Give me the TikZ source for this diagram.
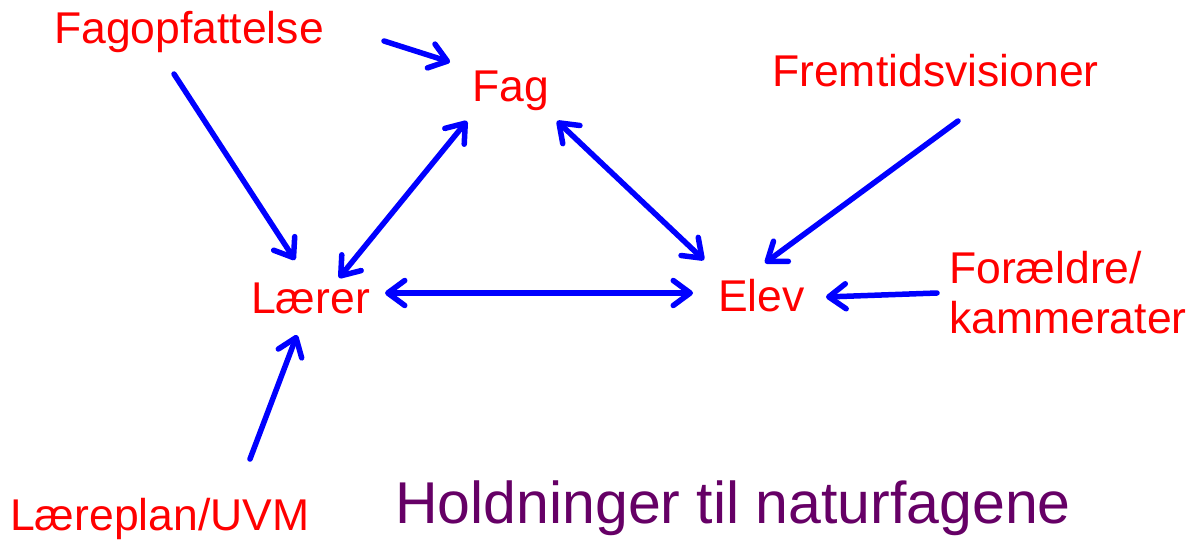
\documentclass[tikz,border=0pt]{standalone}
\usepackage{fontspec}
\setmainfont{Liberation Sans}
\usetikzlibrary{arrows.meta}
\definecolor{txtred}{RGB}{255,0,0}
\definecolor{arrblue}{RGB}{0,0,255}
\definecolor{titlepurple}{RGB}{102,0,102}
\begin{document}
\begin{tikzpicture}[x=1pt,y=-1pt,
  lbl/.style={anchor=base west,inner sep=0pt,text=txtred,font=\fontsize{44.5}{50}\selectfont,align=left},
  arr/.style={draw=arrblue,line width=5.5pt,line cap=round,line join=round,
    -{Straight Barb[length=17pt,width=25pt,line cap=round,line join=round]}},
  darr/.style={arr,{Straight Barb[length=17pt,width=25pt,line cap=round,line join=round]}-{Straight Barb[length=17pt,width=25pt,line cap=round,line join=round]}}]
\fill[white] (0,0) rectangle (1195,540);
\useasboundingbox (0,0) rectangle (1195,540);

\node[lbl] (fagopf) at (54,44) {Fagopfattelse};
\node[lbl] (fag) at (472,102) {Fag};
\node[lbl] (frem) at (772,87) {Fremtidsvisioner};
\node[lbl] (laerer) at (251,313) {Lærer};
\node[lbl] (elev) at (718,312) {Elev};
\node[lbl] (foraeldre) at (949,334) {Forældre/\\kammerater};
\node[lbl] (laereplan) at (10,530) {Læreplan/UVM};
\node[anchor=base west,inner sep=0pt,text=titlepurple,font=\fontsize{59}{70}\selectfont] (titel) at (395,523) {Holdninger til naturfagene};

\draw[arr] ([shift={(330,-3)}]fagopf.base west) -- ([shift={(-22,-40)}]fag.base west);
\draw[arr] ([shift={(120,30)}]fagopf.base west) -- ([shift={(44,-53)}]laerer.base west);
\draw[darr] ([shift={(88,-35)}]laerer.base west) -- ([shift={(-5,19)}]fag.base west);
\draw[darr] ([shift={(85,19)}]fag.base west) -- ([shift={(-14,-52)}]elev.base west);
\draw[darr] ([shift={(134,-20)}]laerer.base west) -- ([shift={(-25,-19)}]elev.base west);
\draw[arr] ([shift={(186,34)}]frem.base west) -- ([shift={(47,-49)}]elev.base west);
\draw[arr] ([shift={(-12,-41)}]foraeldre.base west) -- ([shift={(108,-15)}]elev.base west);
\draw[arr] ([shift={(240,-71)}]laereplan.base west) -- ([shift={(46,22)}]laerer.base west);
\end{tikzpicture}
\end{document}
